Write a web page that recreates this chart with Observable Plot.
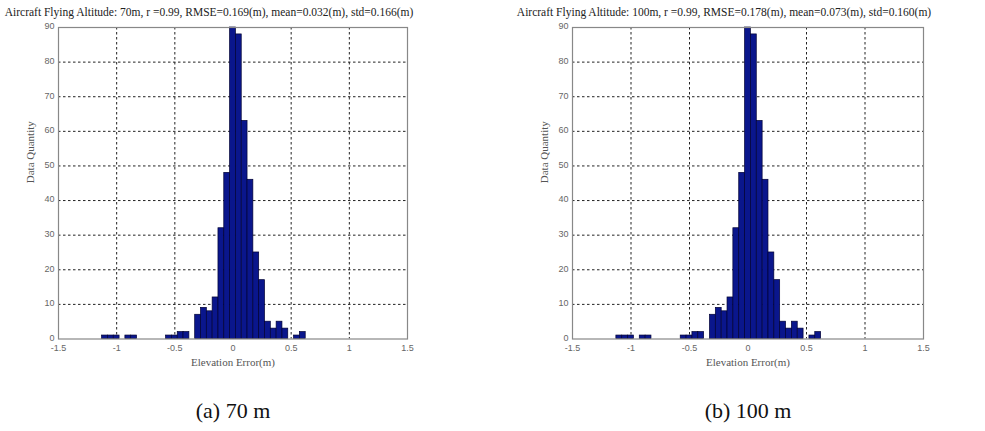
<!DOCTYPE html>
<html>
<head>
<meta charset="utf-8">
<script src="https://cdn.jsdelivr.net/npm/d3@7"></script>
<script src="https://cdn.jsdelivr.net/npm/@observablehq/plot@0.6"></script>
<style>
  html, body { margin: 0; padding: 0; background: #fff; }
  #wrap { position: relative; width: 985px; height: 431px; overflow: hidden; }
  #left, #right { position: absolute; top: 0; }
  #left { left: 0; }
  #right { left: 490px; }
</style>
</head>
<body>
<div id="wrap"><div id="left"></div><div id="right"></div></div>
<script>
// Bin centers of the elevation-error histograms (bin width 0.05 m)
const binCenters = [-1.10, -1.05, -1.00, -0.90, -0.85, -0.55, -0.50, -0.45, -0.40,
  -0.30, -0.25, -0.20, -0.15, -0.10, -0.05, 0.00, 0.05, 0.10, 0.15, 0.20, 0.25,
  0.30, 0.35, 0.40, 0.45, 0.55, 0.60];
const counts70 = [1, 1, 1, 1, 1, 1, 1, 2, 2, 7, 9, 8, 12, 32, 48, 90, 88, 63, 46, 25, 17, 5, 3, 5, 3, 1, 2];
const counts100 = [1, 1, 1, 1, 1, 1, 1, 2, 2, 7, 9, 8, 12, 32, 48, 90, 88, 63, 46, 25, 17, 5, 3, 5, 3, 1, 2];
const binWidth = 0.05;
const xTicks = [-1.5, -1, -0.5, 0, 0.5, 1, 1.5];
const yTicks = [0, 10, 20, 30, 40, 50, 60, 70, 80, 90];
const titles = [
  "Aircraft Flying Altitude: 70m, r =0.99, RMSE=0.169(m), mean=0.032(m), std=0.166(m)",
  "Aircraft Flying Altitude: 100m, r =0.99, RMSE=0.178(m), mean=0.073(m), std=0.160(m)"
];
const captions = ["(a) 70 m", "(b) 100 m"];
const xLabel = "Elevation Error(m)";
const yLabel = "Data Quantity";

function makeChart(counts, title, caption, width, mL, mR) {
  const data = binCenters.map((c, i) => ({x1: c - binWidth / 2, x2: c + binWidth / 2, y: counts[i]}));
  const serif = "'Liberation Serif', 'Times New Roman', serif";
  return Plot.plot({
    width, height: 431,
    marginTop: 27, marginBottom: 92.5, marginLeft: mL, marginRight: mR,
    style: {fontFamily: "'Liberation Sans', Arial, sans-serif", fontSize: "9px", color: "#666", background: "#fff"},
    x: {domain: [-1.5, 1.5]},
    y: {domain: [0, 90]},
    marks: [
      Plot.ruleX(xTicks.slice(1, -1), {stroke: "#222", strokeDasharray: "2.5,2.5", strokeWidth: 1}),
      Plot.ruleY(yTicks.slice(1, -1), {stroke: "#222", strokeDasharray: "2.5,2.5", strokeWidth: 1}),
      Plot.rectY(data, {x1: "x1", x2: "x2", y: "y", fill: "#0a168c", stroke: "#000033", strokeWidth: 0.7, insetLeft: 0, insetRight: 0}),
      Plot.frame({stroke: "#888", strokeWidth: 1.2}),
      Plot.axisX({ticks: xTicks, tickSize: 0, tickPadding: 6, tickFormat: d => String(d), label: null, fill: "#666"}),
      Plot.axisY({ticks: yTicks, tickSize: 0, tickPadding: 4, tickFormat: d => String(d), label: null, fill: "#666", dy: -1}),
      Plot.text([title], {frameAnchor: "top", dy: -15, dx: -24, text: d => d, fontFamily: serif, fontSize: 11.5, fill: "#222", lineAnchor: "middle"}),
      Plot.text([xLabel], {frameAnchor: "bottom", dy: 23, text: d => d, fontFamily: serif, fontSize: 11, fill: "#555", lineAnchor: "middle"}),
      Plot.text([yLabel], {frameAnchor: "left", dx: -28, rotate: -90, text: d => d, fontFamily: serif, fontSize: 11, fill: "#555", lineAnchor: "middle"}),
      Plot.text([caption], {frameAnchor: "bottom", dy: 72, text: d => d, fontFamily: serif, fontSize: 22, fill: "#111", lineAnchor: "middle"})
    ]
  });
}

document.getElementById("left").appendChild(makeChart(counts70, titles[0], captions[0], 490, 58, 83));
document.getElementById("right").appendChild(makeChart(counts100, titles[1], captions[1], 495, 82, 62));
</script>
</body>
</html>
